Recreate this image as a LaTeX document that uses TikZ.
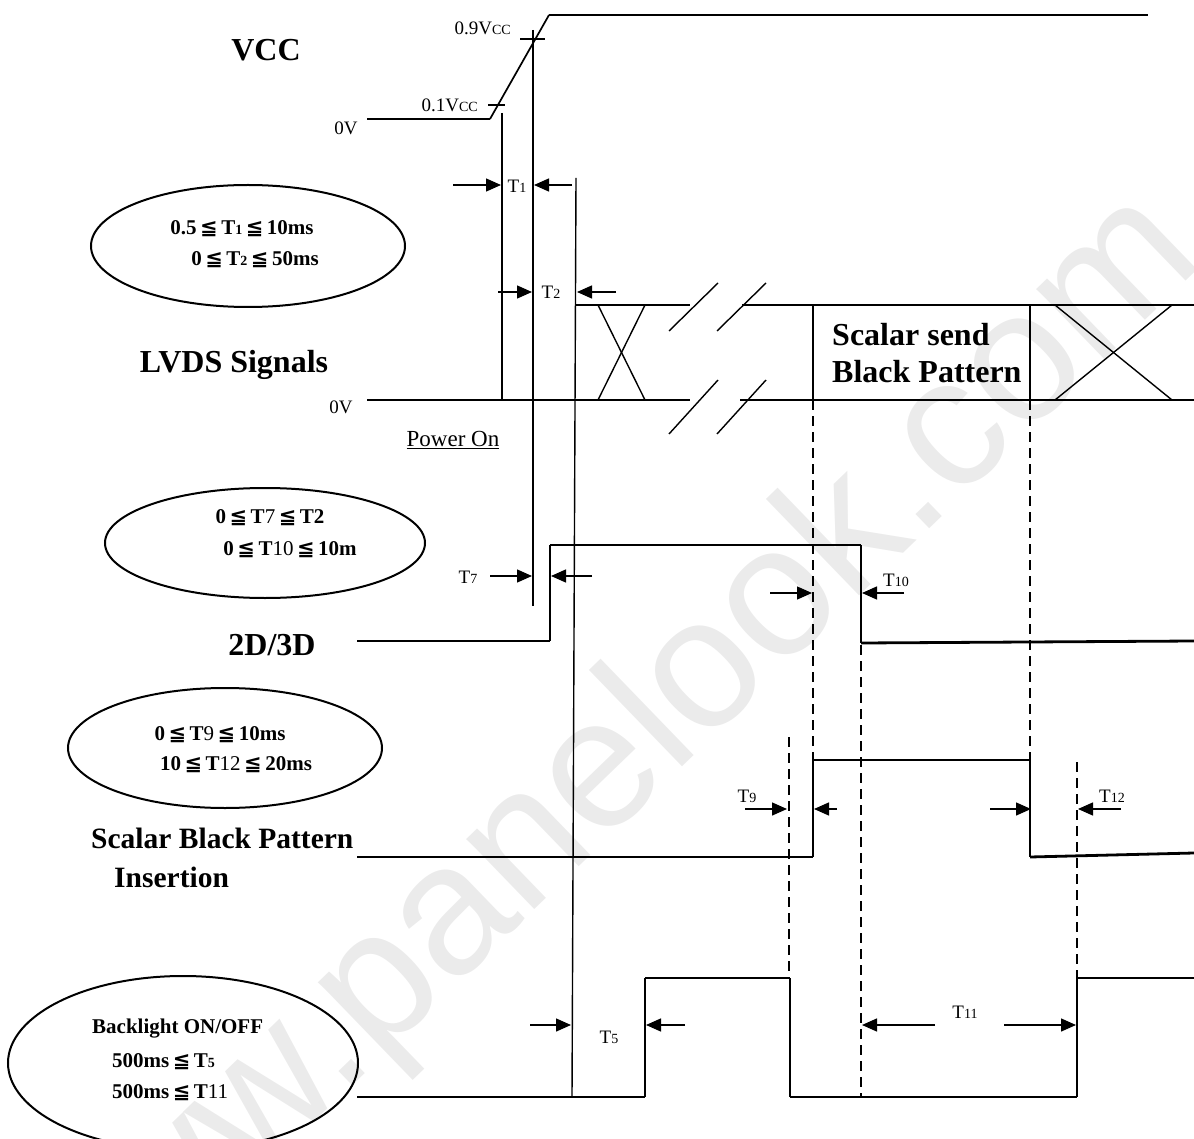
\documentclass[tikz,border=0pt]{standalone}
\usepackage{fontspec}
\setmainfont{Liberation Serif}
\newfontfamily\symfont{DejaVu Sans}
\newfontfamily\wmfont{Liberation Sans}
\usetikzlibrary{arrows.meta,shapes.geometric}
\newcommand{\fsz}[1]{\fontsize{#1}{#1}\selectfont}
\newcommand{\lqq}{{\symfont\bfseries\,≦\,}}
\newcommand{\sdg}[1]{{\fsz{14}#1}}
\newcommand{\ndg}[1]{{\mdseries #1}}
\tikzset{
  sig/.style={line width=2.8pt},
  edg/.style={line width=1.7pt},
  thn/.style={line width=1.4pt},
  dashline/.style={line width=1.4pt, dash pattern=on 10pt off 6pt},
  arr/.style={line width=1.4pt, -{Triangle[length=15pt,width=13pt]}},
  ell/.style={draw, ellipse, line width=2pt, inner sep=0pt},
  lbl/.style={inner sep=0pt, font=\fsz{19}},
  big/.style={inner sep=0pt, font=\fsz{32}\bfseries},
  etx/.style={inner sep=0pt, font=\fsz{21}\bfseries},
}
\begin{document}
\begin{tikzpicture}[x=1pt,y=-1pt]
\useasboundingbox (0,0) rectangle (1194,1139);
% watermark
\node[inner sep=0pt, rotate=44, text=black!8, font=\wmfont\fsz{185}, anchor=south east] (wm) at (1233,289) {www.panelook.com};
% VCC
\draw[sig] (367,119) -- (490,119);
\draw[edg] (490,119) -- (549,15);
\draw[sig] (549,15) -- (1148,15);
\draw[thn] (488,105) -- (505,105);
\draw[thn] (520,39) -- (545,39);
\draw[thn] (502,113) -- (502,400);
\draw[thn] (533,30) -- (533,606);
\draw[thn] (576,178) -- (572,1097);
\node[big] (vcc) at (266,50) {VCC};
\node[lbl] (v0) at (346,128) {0V};
\node[lbl, anchor=east] (v09) at (511,28) {0.9V\sdg{CC}};
\node[lbl, anchor=east] (v01) at (478,105) {0.1V\sdg{CC}};
% T1, T2
\coordinate (t1a) at (453,185); \coordinate (t1b) at (501,185);
\coordinate (t1c) at (572,185); \coordinate (t1d) at (534,185);
\draw[arr] (t1a) -- (t1b);
\draw[arr] (t1c) -- (t1d);
\node[lbl] (t1) at (517,186) {T\sdg{1}};
\coordinate (t2a) at (498,292); \coordinate (t2b) at (532,292);
\coordinate (t2c) at (616,292); \coordinate (t2d) at (577,292);
\draw[arr] (t2a) -- (t2b);
\draw[arr] (t2c) -- (t2d);
\node[lbl] (t2) at (551,292) {T\sdg{2}};
% ellipse 1
\node[ell, minimum width=314pt, minimum height=122pt] (e1) at (248,246) {};
\node[etx] (e1a) at (242,229) {0.5\lqq T\sdg{1}\lqq 10ms};
\node[etx] (e1b) at (255,260) {0\lqq T\sdg{2}\lqq 50ms};
% LVDS
\draw[sig] (576,305) -- (690,305);
\draw[sig] (742,305) -- (1194,305);
\draw[sig] (367,400) -- (690,400);
\draw[sig] (740,400) -- (1194,400);
\draw[thn] (598,305) -- (645,400);
\draw[thn] (645,305) -- (598,400);
\draw[thn] (669,331) -- (718,283);
\draw[thn] (717,331) -- (766,283);
\draw[thn] (669,434) -- (718,380);
\draw[thn] (717,434) -- (766,380);
\draw[thn] (813,305) -- (813,410);
\draw[thn] (1030,305) -- (1030,410);
\draw[thn] (1055,305) -- (1172,400);
\draw[thn] (1172,305) -- (1055,400);
\node[big, anchor=west] (ss1) at (832,335) {Scalar send};
\node[big, anchor=west] (ss2) at (832,372) {Black Pattern};
\node[big] (lvds) at (234,365) {LVDS Signals};
\node[lbl] (l0) at (341,407) {0V};
\node[inner sep=0pt, font=\fsz{23}] (pon) at (453,440) {\underline{Power On}};
% ellipse 2
\node[ell, minimum width=320pt, minimum height=110pt] (e2) at (265,543) {};
\node[etx] (e2a) at (270,518) {0\lqq T\ndg{7}\lqq T2};
\node[etx] (e2b) at (290,550) {0\lqq T\ndg{10}\lqq 10m};
% 2D/3D
\draw[sig] (357,641) -- (550,641);
\draw[edg] (550,641) -- (550,545);
\draw[sig] (550,545) -- (861,545);
\draw[edg] (861,545) -- (861,643);
\draw[sig] (861,643) -- (1194,641);
\node[big] (d23) at (272,645) {2D/3D};
\coordinate (t7a) at (490,576); \coordinate (t7b) at (532,576);
\coordinate (t7c) at (592,576); \coordinate (t7d) at (551,576);
\draw[arr] (t7a) -- (t7b);
\draw[arr] (t7c) -- (t7d);
\node[lbl] (t7) at (468,577) {T\sdg{7}};
\coordinate (t10a) at (770,593); \coordinate (t10b) at (812,593);
\coordinate (t10c) at (904,593); \coordinate (t10d) at (862,593);
\draw[arr] (t10a) -- (t10b);
\draw[arr] (t10c) -- (t10d);
\node[lbl] (t10) at (896,580) {T\sdg{10}};
% dashed lines
\draw[dashline] (813,400) -- (813,760);
\draw[dashline] (1030,400) -- (1030,760);
\draw[dashline] (861,645) -- (861,1097);
\draw[dashline] (789,737) -- (789,978);
\draw[dashline] (1077,762) -- (1077,978);
% ellipse 3
\node[ell, minimum width=314pt, minimum height=120pt] (e3) at (225,748) {};
\node[etx] (e3a) at (220,735) {0\lqq T\ndg{9}\lqq 10ms};
\node[etx] (e3b) at (236,765) {10\lqq T\ndg{12}\lqq 20ms};
% Scalar black pattern insertion
\draw[sig] (357,857) -- (813,857);
\draw[edg] (813,857) -- (813,760);
\draw[sig] (813,760) -- (1030,760);
\draw[edg] (1030,760) -- (1030,857);
\draw[sig] (1030,857) -- (1194,853);
\node[big, font=\fsz{29.5}\bfseries, anchor=west] (sbp1) at (91,838) {Scalar Black Pattern};
\node[big, font=\fsz{29.5}\bfseries, anchor=west] (sbp2) at (114,877) {Insertion};
\coordinate (t9a) at (745,809); \coordinate (t9b) at (787,809);
\coordinate (t9c) at (837,809); \coordinate (t9d) at (814,809);
\draw[arr] (t9a) -- (t9b);
\draw[arr] (t9c) -- (t9d);
\node[lbl] (t9) at (747,796) {T\sdg{9}};
\coordinate (t12a) at (990,809); \coordinate (t12b) at (1031,809);
\coordinate (t12c) at (1121,809); \coordinate (t12d) at (1078,809);
\draw[arr] (t12a) -- (t12b);
\draw[arr] (t12c) -- (t12d);
\node[lbl] (t12) at (1112,796) {T\sdg{12}};
% Backlight
\draw[sig] (357,1097) -- (645,1097);
\draw[edg] (645,1097) -- (645,978);
\draw[sig] (645,978) -- (790,978);
\draw[edg] (790,978) -- (790,1097);
\draw[sig] (790,1097) -- (1077,1097);
\draw[edg] (1077,1097) -- (1077,978);
\draw[sig] (1077,978) -- (1194,978);
\coordinate (t5a) at (530,1025); \coordinate (t5b) at (571,1025);
\coordinate (t5c) at (685,1025); \coordinate (t5d) at (646,1025);
\draw[arr] (t5a) -- (t5b);
\draw[arr] (t5c) -- (t5d);
\node[lbl] (t5) at (609,1037) {T\sdg{5}};
\coordinate (t11a) at (935,1025); \coordinate (t11b) at (862,1025);
\coordinate (t11c) at (1004,1025); \coordinate (t11d) at (1076,1025);
\draw[arr] (t11a) -- (t11b);
\draw[arr] (t11c) -- (t11d);
\node[lbl] (t11) at (965,1012) {T\sdg{11}};
% ellipse 4
\node[ell, minimum width=350pt, minimum height=174pt] (e4) at (183,1063) {};
\node[etx, anchor=west] (e4a) at (92,1029) {Backlight ON/OFF};
\node[etx, anchor=west] (e4b) at (112,1062) {500ms\lqq T\sdg{5}};
\node[etx, anchor=west] (e4c) at (112,1093) {500ms\lqq T\ndg{11}};
\end{tikzpicture}
\end{document}
